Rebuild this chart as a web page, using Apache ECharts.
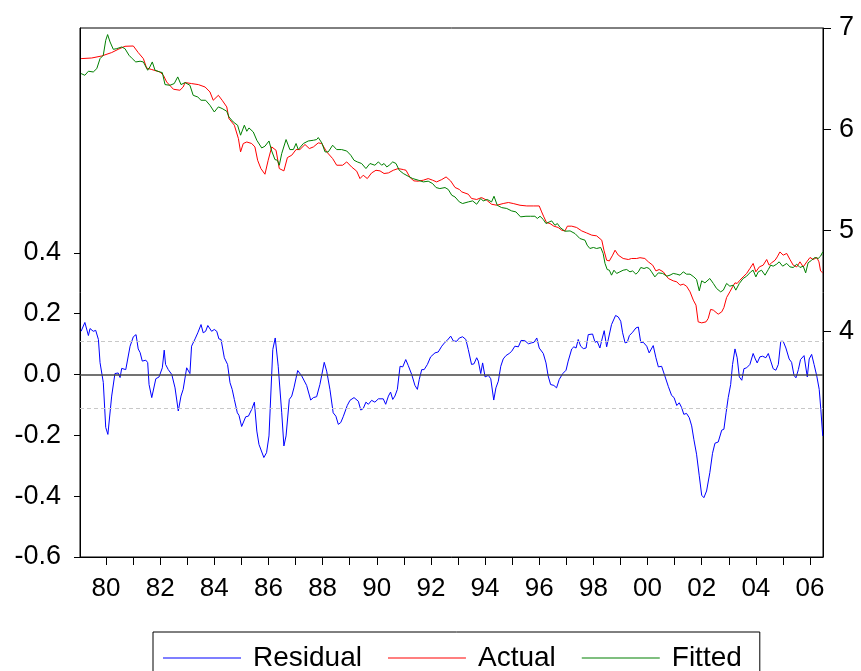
<!DOCTYPE html>
<html lang="en">
<head>
  <meta charset="UTF-8">
  <title>Residual / Actual / Fitted</title>
  <style>
    html, body { margin: 0; padding: 0; background: #fff; }
    #chart { width: 861px; height: 671px; }
  </style>
  <script src="https://cdn.jsdelivr.net/npm/echarts@6/dist/echarts.min.js"></script>
</head>
<body>
  <div id="chart"></div>
  <script>
    // time in decimal years
    var resT = [1979.08,1979.22,1979.35,1979.41,1979.53,1979.62,1979.72,1979.78,1979.90,1979.99,1980.07,1980.21,1980.33,1980.45,1980.52,1980.58,1980.73,1980.89,1981.01,1981.11,1981.19,1981.26,1981.34,1981.47,1981.54,1981.59,1981.69,1981.75,1981.84,1981.96,1982.08,1982.15,1982.20,1982.30,1982.43,1982.55,1982.67,1982.77,1982.85,1982.98,1983.10,1983.16,1983.29,1983.39,1983.51,1983.59,1983.68,1983.76,1983.90,1984.00,1984.09,1984.17,1984.25,1984.37,1984.49,1984.58,1984.66,1984.74,1984.85,1984.91,1985.01,1985.07,1985.16,1985.26,1985.38,1985.48,1985.57,1985.65,1985.72,1985.83,1985.93,1986.02,1986.16,1986.25,1986.36,1986.49,1986.57,1986.65,1986.77,1986.86,1986.94,1987.08,1987.23,1987.41,1987.56,1987.66,1987.78,1987.90,1988.06,1988.15,1988.27,1988.39,1988.49,1988.58,1988.67,1988.76,1988.91,1989.01,1989.16,1989.32,1989.41,1989.50,1989.60,1989.69,1989.81,1989.93,1990.06,1990.24,1990.33,1990.43,1990.51,1990.59,1990.67,1990.76,1990.86,1990.96,1991.07,1991.16,1991.29,1991.41,1991.50,1991.57,1991.66,1991.75,1991.87,1991.99,1992.06,1992.15,1992.27,1992.40,1992.52,1992.60,1992.73,1992.83,1992.95,1993.05,1993.17,1993.29,1993.38,1993.50,1993.59,1993.69,1993.75,1993.84,1993.91,1994.00,1994.12,1994.21,1994.32,1994.40,1994.49,1994.58,1994.67,1994.77,1994.89,1994.98,1995.10,1995.23,1995.33,1995.47,1995.60,1995.72,1995.81,1995.91,1996.00,1996.15,1996.25,1996.33,1996.42,1996.54,1996.64,1996.74,1996.87,1996.99,1997.07,1997.20,1997.28,1997.36,1997.44,1997.53,1997.63,1997.73,1997.81,1997.97,1998.06,1998.14,1998.24,1998.33,1998.40,1998.49,1998.56,1998.67,1998.73,1998.82,1998.92,1999.01,1999.08,1999.17,1999.25,1999.33,1999.45,1999.57,1999.66,1999.75,1999.84,1999.97,2000.06,2000.21,2000.31,2000.40,2000.52,2000.64,2000.77,2000.89,2000.98,2001.08,2001.17,2001.26,2001.34,2001.44,2001.54,2001.63,2001.71,2001.81,2001.91,2002.00,2002.08,2002.18,2002.30,2002.40,2002.49,2002.61,2002.74,2002.82,2002.90,2002.98,2003.07,2003.14,2003.23,2003.31,2003.39,2003.48,2003.56,2003.66,2003.78,2003.90,2003.98,2004.05,2004.15,2004.25,2004.37,2004.46,2004.55,2004.64,2004.74,2004.83,2004.92,2005.01,2005.11,2005.23,2005.32,2005.41,2005.48,2005.57,2005.65,2005.78,2005.85,2005.90,2005.97,2006.06,2006.15,2006.25,2006.34,2006.40,2006.47];
    var resV = [0.142,0.171,0.128,0.151,0.142,0.145,0.115,0.039,-0.026,-0.174,-0.197,-0.071,0.003,0.005,-0.010,0.020,0.016,0.093,0.124,0.131,0.084,0.072,0.044,0.047,0.039,-0.033,-0.076,-0.071,-0.014,-0.008,0.022,0.080,0.033,0.016,0.000,-0.044,-0.120,-0.071,-0.049,0.022,0.003,0.093,0.117,0.137,0.164,0.137,0.142,0.161,0.142,0.148,0.142,0.117,0.115,0.055,0.033,-0.027,-0.049,-0.082,-0.126,-0.134,-0.171,-0.169,-0.139,-0.137,-0.115,-0.091,-0.186,-0.230,-0.226,-0.273,-0.257,-0.202,0.082,0.120,0.027,-0.126,-0.235,-0.202,-0.082,-0.071,-0.044,0.013,-0.005,-0.036,-0.084,-0.076,-0.073,-0.033,0.040,0.011,-0.049,-0.126,-0.137,-0.164,-0.158,-0.139,-0.102,-0.085,-0.076,-0.088,-0.117,-0.112,-0.091,-0.098,-0.085,-0.091,-0.080,-0.080,-0.098,-0.071,-0.058,-0.082,-0.071,-0.049,0.027,0.025,0.049,0.030,0.000,-0.036,-0.049,-0.016,0.016,0.016,0.033,0.058,0.055,0.071,0.074,0.093,0.106,0.112,0.126,0.110,0.109,0.120,0.124,0.115,0.082,0.033,0.035,0.055,0.044,0.003,0.038,-0.008,-0.003,-0.014,-0.084,-0.044,-0.022,0.027,0.051,0.062,0.069,0.076,0.093,0.091,0.112,0.111,0.101,0.104,0.106,0.120,0.087,0.069,0.038,-0.005,-0.033,-0.036,-0.044,-0.016,0.003,0.014,0.044,0.084,0.091,0.087,0.115,0.093,0.085,0.087,0.131,0.133,0.106,0.109,0.087,0.120,0.144,0.091,0.093,0.164,0.167,0.194,0.189,0.175,0.137,0.104,0.106,0.128,0.139,0.153,0.156,0.105,0.106,0.093,0.071,0.095,0.055,0.025,0.027,-0.005,-0.040,-0.069,-0.076,-0.102,-0.093,-0.109,-0.131,-0.128,-0.142,-0.169,-0.213,-0.262,-0.333,-0.397,-0.405,-0.383,-0.323,-0.259,-0.226,-0.222,-0.183,-0.180,-0.126,-0.076,-0.033,0.033,0.084,0.055,-0.008,-0.019,0.019,0.022,0.033,0.069,0.051,0.038,0.058,0.060,0.055,0.069,0.044,0.019,0.014,0.033,0.109,0.109,0.087,0.051,0.040,-0.003,-0.011,0.016,0.049,0.062,0.060,-0.008,0.051,0.066,0.033,-0.005,-0.049,-0.115,-0.202];

    var actT = [1979.08,1979.47,1979.84,1980.21,1980.45,1980.70,1981.01,1981.19,1981.38,1981.50,1981.69,1981.99,1982.12,1982.24,1982.49,1982.73,1982.85,1982.92,1983.16,1983.41,1983.66,1983.84,1983.96,1984.15,1984.29,1984.46,1984.54,1984.74,1984.89,1984.97,1985.07,1985.20,1985.38,1985.50,1985.60,1985.72,1985.87,1985.99,1986.12,1986.28,1986.40,1986.57,1986.70,1986.86,1987.02,1987.16,1987.35,1987.51,1987.66,1987.84,1987.97,1988.15,1988.37,1988.52,1988.74,1988.89,1989.07,1989.26,1989.38,1989.50,1989.65,1989.81,1989.97,1990.12,1990.27,1990.43,1990.61,1990.79,1990.98,1991.08,1991.23,1991.37,1991.53,1991.72,1991.90,1992.06,1992.21,1992.40,1992.56,1992.73,1992.89,1993.05,1993.14,1993.38,1993.50,1993.69,1993.87,1994.06,1994.24,1994.43,1994.67,1994.86,1995.04,1995.29,1995.54,1995.78,1996.00,1996.09,1996.17,1996.27,1996.40,1996.54,1996.70,1996.83,1996.95,1997.04,1997.20,1997.38,1997.57,1997.75,1997.94,1998.12,1998.31,1998.39,1998.49,1998.59,1998.71,1998.80,1998.92,1999.10,1999.29,1999.41,1999.60,1999.72,1999.90,2000.03,2000.19,2000.31,2000.43,2000.58,2000.77,2000.95,2001.08,2001.20,2001.32,2001.44,2001.57,2001.69,2001.79,2001.87,2002.00,2002.16,2002.24,2002.33,2002.43,2002.49,2002.61,2002.74,2002.82,2002.92,2003.04,2003.14,2003.23,2003.31,2003.41,2003.53,2003.66,2003.78,2003.90,2004.00,2004.13,2004.27,2004.40,2004.49,2004.58,2004.71,2004.79,2004.89,2005.01,2005.14,2005.26,2005.38,2005.51,2005.63,2005.75,2005.88,2006.00,2006.12,2006.25,2006.33,2006.39,2006.47];
    var actV = [6.697,6.703,6.723,6.757,6.789,6.819,6.822,6.757,6.697,6.604,6.589,6.565,6.532,6.466,6.394,6.384,6.416,6.460,6.450,6.440,6.416,6.367,6.285,6.334,6.285,6.219,6.104,6.038,5.906,5.774,5.857,5.872,5.857,5.823,5.691,5.609,5.553,5.691,5.823,5.790,5.609,5.586,5.718,5.741,5.797,5.797,5.847,5.807,5.823,5.863,5.857,5.774,5.708,5.642,5.642,5.675,5.625,5.583,5.510,5.543,5.510,5.566,5.592,5.586,5.560,5.566,5.592,5.609,5.599,5.592,5.520,5.487,5.484,5.494,5.510,5.494,5.477,5.500,5.526,5.486,5.422,5.402,5.378,5.355,5.313,5.303,5.322,5.296,5.256,5.246,5.263,5.273,5.263,5.246,5.239,5.239,5.239,5.180,5.131,5.075,5.065,5.039,5.026,4.999,4.992,5.039,5.039,5.026,4.992,4.972,4.950,4.943,4.900,4.801,4.702,4.695,4.752,4.801,4.752,4.719,4.709,4.719,4.719,4.727,4.719,4.686,4.653,4.596,4.610,4.587,4.521,4.498,4.488,4.455,4.465,4.445,4.389,4.307,4.257,4.092,4.082,4.092,4.126,4.215,4.208,4.215,4.168,4.191,4.234,4.333,4.389,4.438,4.478,4.472,4.504,4.537,4.571,4.620,4.670,4.587,4.636,4.653,4.709,4.653,4.676,4.702,4.735,4.784,4.752,4.769,4.709,4.653,4.636,4.686,4.636,4.686,4.729,4.709,4.729,4.686,4.596,4.577];

    var fitT = [1979.08,1979.22,1979.35,1979.53,1979.66,1979.78,1979.90,1979.99,1980.06,1980.15,1980.27,1980.40,1980.58,1980.70,1980.85,1980.97,1981.10,1981.26,1981.38,1981.54,1981.62,1981.71,1981.81,1981.99,1982.08,1982.18,1982.36,1982.52,1982.65,1982.77,1982.92,1983.10,1983.22,1983.39,1983.51,1983.68,1983.84,1984.00,1984.15,1984.29,1984.46,1984.54,1984.70,1984.86,1984.97,1985.11,1985.20,1985.28,1985.44,1985.57,1985.75,1985.87,1985.93,1986.02,1986.12,1986.24,1986.33,1986.40,1986.49,1986.65,1986.79,1986.92,1987.02,1987.10,1987.29,1987.47,1987.66,1987.78,1987.84,1987.97,1988.09,1988.21,1988.37,1988.52,1988.70,1988.89,1989.04,1989.16,1989.28,1989.44,1989.60,1989.75,1989.93,1990.06,1990.18,1990.27,1990.37,1990.46,1990.59,1990.71,1990.83,1990.98,1991.16,1991.33,1991.53,1991.72,1991.90,1992.06,1992.19,1992.33,1992.52,1992.64,1992.77,1992.89,1993.05,1993.17,1993.38,1993.54,1993.69,1993.84,1993.93,1994.08,1994.24,1994.33,1994.45,1994.61,1994.80,1994.98,1995.14,1995.31,1995.51,1995.68,1995.84,1995.93,1996.03,1996.15,1996.25,1996.37,1996.46,1996.58,1996.67,1996.77,1996.95,1997.14,1997.32,1997.50,1997.69,1997.77,1997.87,1998.00,1998.12,1998.27,1998.36,1998.43,1998.51,1998.59,1998.67,1998.76,1998.86,1998.98,1999.10,1999.23,1999.35,1999.45,1999.57,1999.66,1999.75,1999.87,1999.97,2000.06,2000.15,2000.27,2000.40,2000.56,2000.71,2000.83,2000.95,2001.08,2001.20,2001.32,2001.44,2001.57,2001.71,2001.81,2001.91,2002.00,2002.12,2002.30,2002.43,2002.55,2002.70,2002.80,2002.92,2003.04,2003.17,2003.26,2003.39,2003.53,2003.66,2003.81,2003.90,2004.00,2004.09,2004.21,2004.34,2004.46,2004.55,2004.64,2004.77,2004.86,2004.99,2005.14,2005.26,2005.38,2005.51,2005.63,2005.75,2005.84,2005.93,2006.06,2006.18,2006.30,2006.39,2006.47];
    var fitV = [6.549,6.532,6.572,6.565,6.598,6.697,6.730,6.878,6.935,6.862,6.789,6.796,6.812,6.796,6.730,6.697,6.664,6.671,6.664,6.582,6.614,6.664,6.582,6.565,6.559,6.440,6.433,6.450,6.516,6.440,6.460,6.433,6.334,6.317,6.285,6.285,6.235,6.169,6.219,6.203,6.176,6.120,6.070,6.038,5.939,6.038,5.978,6.011,5.971,5.889,5.813,5.830,5.817,5.882,5.783,5.698,5.691,5.642,5.758,5.896,5.797,5.797,5.857,5.797,5.857,5.882,5.889,5.896,5.916,5.863,5.774,5.774,5.840,5.797,5.797,5.783,5.741,5.691,5.675,5.659,5.609,5.659,5.642,5.675,5.642,5.659,5.625,5.642,5.675,5.659,5.592,5.560,5.533,5.510,5.494,5.477,5.484,5.461,5.421,5.411,5.421,5.402,5.345,5.328,5.279,5.263,5.279,5.289,5.256,5.313,5.289,5.303,5.279,5.335,5.246,5.223,5.214,5.190,5.180,5.131,5.137,5.137,5.137,5.115,5.137,5.105,5.065,5.081,5.091,5.048,5.065,5.026,4.989,4.992,4.966,4.917,4.900,4.851,4.818,4.828,4.818,4.828,4.769,4.670,4.610,4.603,4.554,4.603,4.571,4.587,4.603,4.610,4.587,4.596,4.564,4.587,4.630,4.620,4.630,4.620,4.587,4.537,4.577,4.571,4.544,4.554,4.571,4.564,4.554,4.587,4.564,4.564,4.537,4.511,4.399,4.498,4.478,4.521,4.472,4.422,4.389,4.406,4.472,4.445,4.455,4.406,4.472,4.521,4.544,4.587,4.603,4.537,4.587,4.603,4.554,4.610,4.653,4.643,4.663,4.686,4.643,4.670,4.636,4.630,4.663,4.630,4.643,4.577,4.676,4.702,4.729,4.719,4.742,4.784];

    // reference lines on the residual axis: zero and +/- one standard error
    var zeroLine = 0;
    var seBand = 0.1138;

    var xTickYears = [];
    for (var y = 1980; y <= 2006; y++) xTickYears.push(y);
    var xLabelYears = xTickYears.filter(function (y) { return y % 2 === 0; });
    var leftTicks = [-0.6, -0.4, -0.2, 0.0, 0.2, 0.4];
    var rightTicks = [4, 5, 6, 7];

    function zip(t, v) {
      return t.map(function (x, i) { return [x, v[i]]; });
    }

    var font = "'Liberation Sans', Arial, sans-serif";
    var chart = echarts.init(document.getElementById('chart'), null, { renderer: 'canvas' });

    var option = {
      animation: false,
      backgroundColor: '#fff',
      grid: {
        left: 80, top: 28, width: 743, height: 529,
        show: true, borderColor: '#000', borderWidth: 1,
        outerBoundsMode: 'none'
      },
      legend: {
        left: 153, top: 632,
        padding: [12, 18, 20, 10],
        itemGap: 26,
        itemWidth: 78, itemHeight: 1,
        icon: 'rect',
        borderColor: '#000', borderWidth: 1,
        textStyle: { fontFamily: font, fontSize: 28, color: '#000', padding: [0, 0, 0, 7] },
        data: ['Residual', 'Actual', 'Fitted']
      },
      xAxis: {
        type: 'value',
        min: 1979.04, max: 2006.48,
        axisLine: { onZero: false, lineStyle: { color: '#000' } },
        axisTick: { length: 8, customValues: xTickYears, lineStyle: { color: '#000' } },
        axisLabel: {
          customValues: xLabelYears,
          margin: 19,
          fontFamily: font, fontSize: 26, color: '#000',
          formatter: function (v) { return String(Math.round(v) % 100).padStart(2, '0'); }
        },
        splitLine: { show: false }
      },
      yAxis: [{
        type: 'value',
        min: -0.6, max: 1.139,
        position: 'left',
        axisLine: { show: true, lineStyle: { color: '#000' } },
        axisTick: { show: true, length: 6, customValues: leftTicks, lineStyle: { color: '#000' } },
        axisLabel: {
          customValues: leftTicks,
          margin: 19,
          fontFamily: font, fontSize: 27, color: '#000',
          formatter: function (v) { return v.toFixed(1); }
        },
        splitLine: { show: false }
      }, {
        type: 'value',
        min: 1.765, max: 7,
        position: 'right',
        axisLine: { show: true, lineStyle: { color: '#000' } },
        axisTick: { show: true, length: 8, customValues: rightTicks, lineStyle: { color: '#000' } },
        axisLabel: {
          customValues: rightTicks,
          margin: 16,
          fontFamily: font, fontSize: 27, color: '#000'
        },
        splitLine: { show: false }
      }],
      series: [{
        name: 'Residual',
        type: 'line',
        yAxisIndex: 0,
        symbol: 'none',
        color: '#0000ff',
        lineStyle: { width: 1, color: '#0000ff' },
        data: zip(resT, resV),
        markLine: {
          silent: true,
          symbol: ['none', 'none'],
          label: { show: false },
          data: [
            { yAxis: seBand, lineStyle: { color: '#c8c8c8', type: [4, 3], width: 1 } },
            { yAxis: -seBand, lineStyle: { color: '#c8c8c8', type: [4, 3], width: 1 } },
            { yAxis: zeroLine, lineStyle: { color: '#444', type: 'solid', width: 1.5 } }
          ]
        },
        z: 3
      }, {
        name: 'Actual',
        type: 'line',
        yAxisIndex: 1,
        symbol: 'none',
        color: '#ff0000',
        lineStyle: { width: 1, color: '#ff0000' },
        data: zip(actT, actV),
        z: 2
      }, {
        name: 'Fitted',
        type: 'line',
        yAxisIndex: 1,
        symbol: 'none',
        color: '#008000',
        lineStyle: { width: 1, color: '#008000' },
        data: zip(fitT, fitV),
        z: 2
      }]
    };

    chart.setOption(option);
  </script>
</body>
</html>
